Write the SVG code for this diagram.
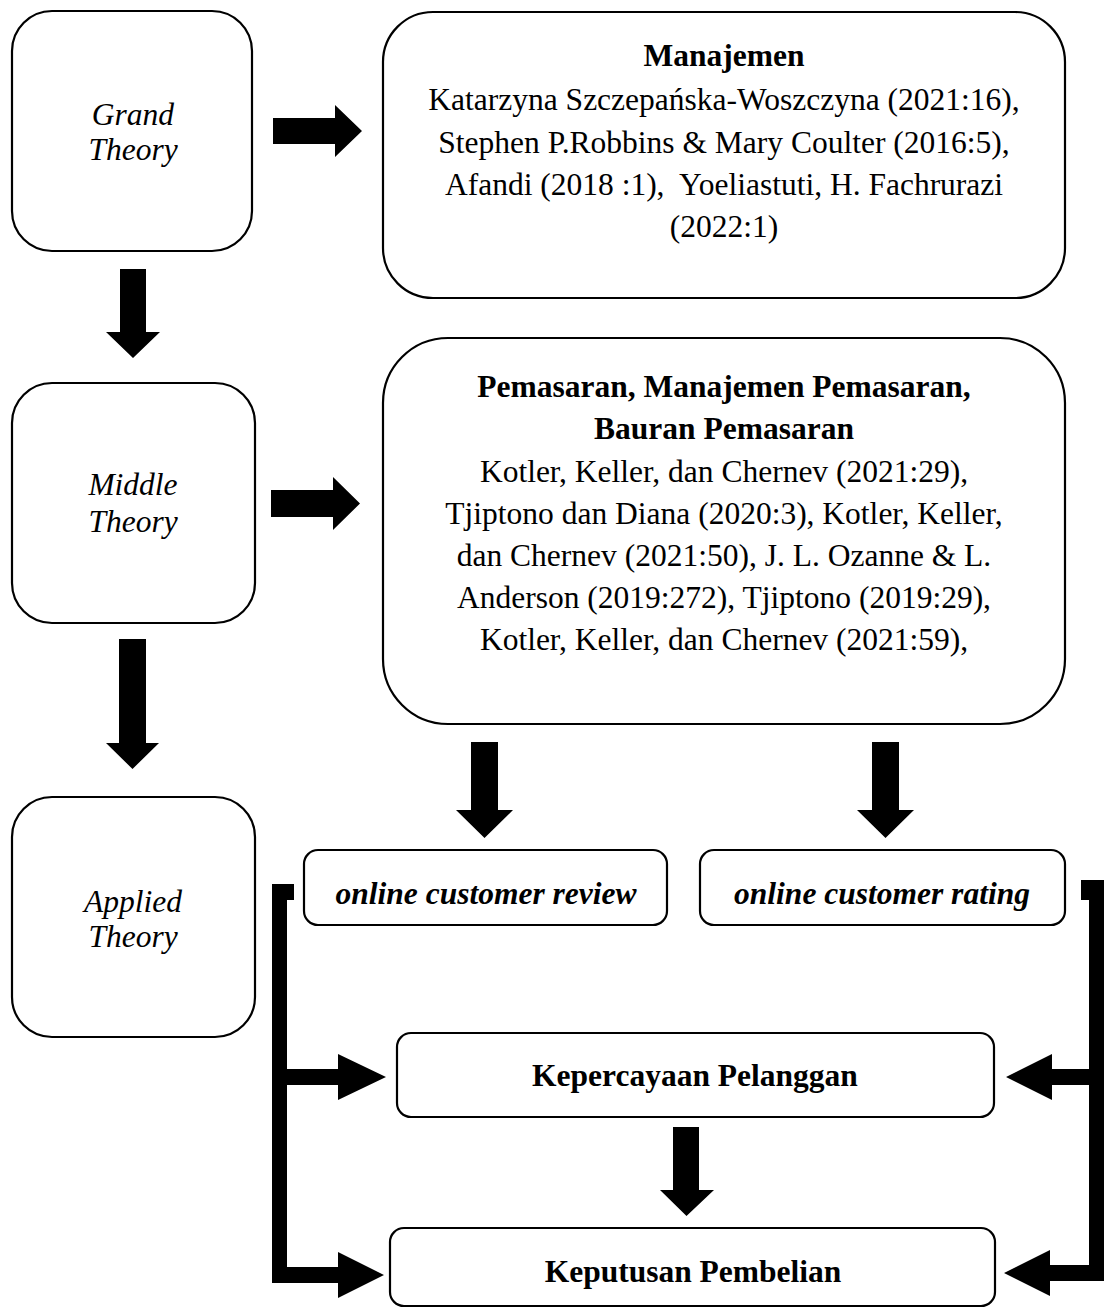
<svg xmlns="http://www.w3.org/2000/svg" width="1105" height="1308" viewBox="0 0 1105 1308">
<style>
.box{fill:#fff;stroke:#000;stroke-width:2.2}
.t{font-family:"Liberation Serif","Times New Roman",serif;font-size:31.5px;fill:#000;text-anchor:middle}
.b{font-weight:bold}
.i{font-style:italic}
.arr{fill:#000;stroke:none}
</style>
<rect width="1105" height="1308" fill="#fff"/>
<g id="grand">
<rect class="box" x="12" y="11" width="240" height="240" rx="40"/>
<text class="t i" x="133" y="125">Grand</text>
<text class="t i" x="133" y="160">Theory</text>
</g>
<g id="manajemen">
<rect class="box" x="383" y="12" width="682" height="286" rx="50"/>
<text class="t b" x="724" y="66">Manajemen</text>
<text class="t" x="724" y="110">Katarzyna Szczepańska-Woszczyna (2021:16),</text>
<text class="t" x="724" y="153">Stephen P.Robbins &amp; Mary Coulter (2016:5),</text>
<text class="t" x="724" y="195" xml:space="preserve">Afandi (2018 :1),  Yoeliastuti, H. Fachrurazi</text>
<text class="t" x="724" y="237">(2022:1)</text>
</g>
<g id="middle">
<rect class="box" x="12" y="383" width="243" height="240" rx="40"/>
<text class="t i" x="133" y="495">Middle</text>
<text class="t i" x="133" y="532">Theory</text>
</g>
<g id="pemasaran">
<rect class="box" x="383" y="338" width="682" height="386" rx="65"/>
<text class="t b" x="724" y="397">Pemasaran, Manajemen Pemasaran,</text>
<text class="t b" x="724" y="439">Bauran Pemasaran</text>
<text class="t" x="724" y="482">Kotler, Keller, dan Chernev (2021:29),</text>
<text class="t" x="724" y="524">Tjiptono dan Diana (2020:3), Kotler, Keller,</text>
<text class="t" x="724" y="566">dan Chernev (2021:50), J. L. Ozanne &amp; L.</text>
<text class="t" x="724" y="608">Anderson (2019:272), Tjiptono (2019:29),</text>
<text class="t" x="724" y="650">Kotler, Keller, dan Chernev (2021:59),</text>
</g>
<g id="applied">
<rect class="box" x="12" y="797" width="243" height="240" rx="40"/>
<text class="t i" x="133" y="912">Applied</text>
<text class="t i" x="133" y="947">Theory</text>
</g>
<g id="review">
<rect class="box" x="304" y="850" width="363" height="75" rx="14"/>
<text class="t b i" x="486" y="904">online customer review</text>
</g>
<g id="rating">
<rect class="box" x="700" y="850" width="365" height="75" rx="14"/>
<text class="t b i" x="882" y="904">online customer rating</text>
</g>
<g id="kepercayaan">
<rect class="box" x="397" y="1033" width="597" height="84" rx="14"/>
<text class="t b" x="695" y="1086">Kepercayaan Pelanggan</text>
</g>
<g id="keputusan">
<rect class="box" x="390" y="1228" width="605" height="78" rx="14"/>
<text class="t b" x="693" y="1282">Keputusan Pembelian</text>
</g>
<g id="connectors">
<polygon class="arr" points="273,118 335,118 335,105 362,131 335,157 335,144 273,144"/>
<polygon class="arr" points="271,490 333,490 333,477 360,503.5 333,530 333,517 271,517"/>
<polygon class="arr" points="120,269 146,269 146,332 160,332 133,358 106,332 120,332"/>
<polygon class="arr" points="119,639 146,639 146,743 159,743 132.5,769 106,743 119,743"/>
<polygon class="arr" points="471,742 498,742 498,810 513,810 484.5,838 456,810 471,810"/>
<polygon class="arr" points="872,742 899,742 899,810 914,810 885.5,838 857,810 872,810"/>
<polygon class="arr" points="673,1127 699,1127 699,1190 714,1190 686.5,1216 660,1190 673,1190"/>
<path class="arr" d="M272,884 H294 V900 H287 V1069 H338 V1054 L386,1077 L338,1100 V1085 H287 V1267 H338 V1252 L384,1275 L338,1298 V1283 H272 Z"/>
<path class="arr" d="M1104,880 H1081 V900 H1089 V1069 H1052 V1054 L1006,1077 L1052,1100 V1085 H1089 V1265 H1050 V1250 L1004,1273 L1050,1296 V1281 H1104 Z"/>
</g>
</svg>
